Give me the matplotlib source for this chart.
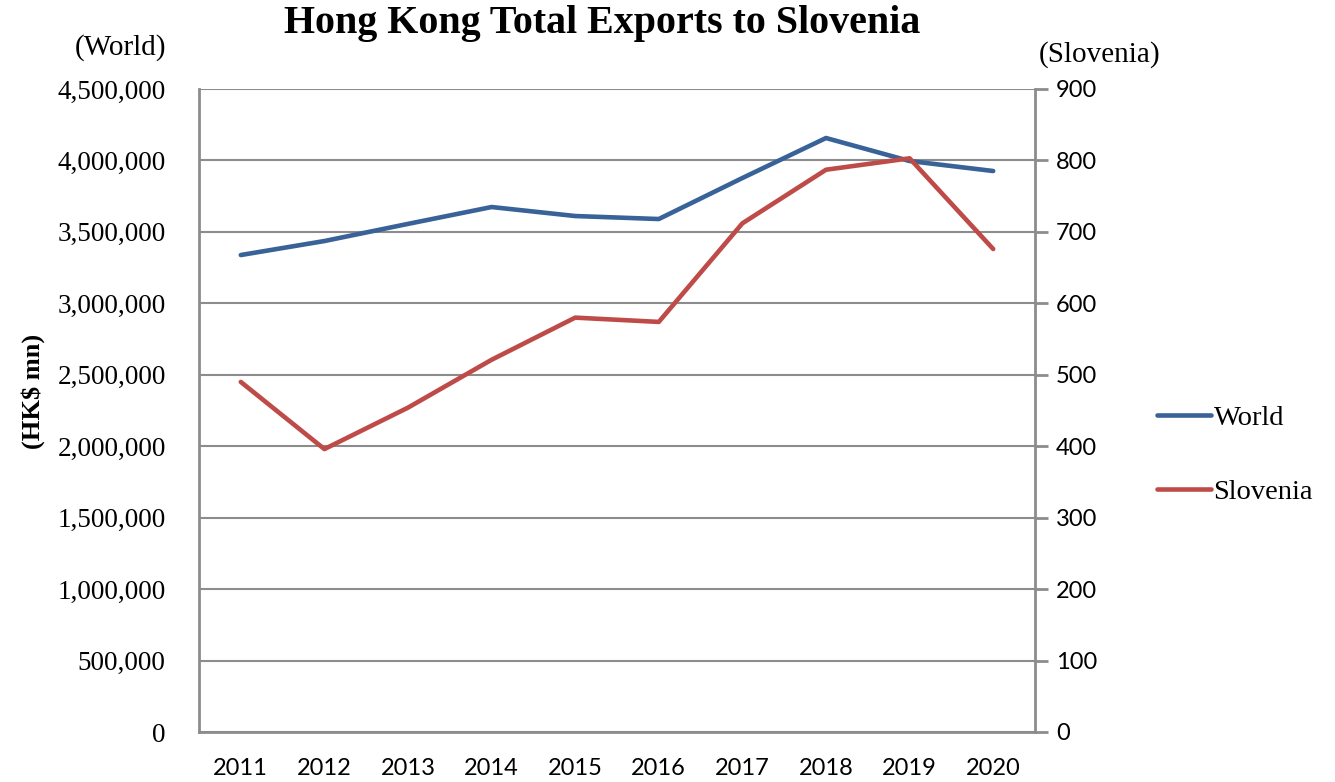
import numpy as np
import matplotlib.pyplot as plt
from matplotlib.ticker import FuncFormatter

years = ["2011", "2012", "2013", "2014", "2015", "2016", "2017", "2018", "2019", "2020"]
world = [3338000, 3436000, 3556000, 3674000, 3611000, 3590000, 3877000, 4157000, 3996000, 3926000]
slovenia = [490, 396, 454, 521, 580, 574, 712, 787, 803, 676]

serif = "Liberation Serif"
sans = "Lato"
grid_col = "#8c8c8c"

fig = plt.figure(figsize=(13.35, 7.82), dpi=100)
ax = fig.add_axes([199 / 1335, 1 - 732 / 782, 836 / 1335, 643 / 782])
ax2 = ax.twinx()

x = np.arange(len(years))
l1, = ax.plot(x, world, color="#386298", lw=3.3, solid_capstyle="round", label="World")
l2, = ax2.plot(x, slovenia, color="#be4b48", lw=3.3, solid_capstyle="round", label="Slovenia")

ax.set_xlim(-0.5, len(years) - 0.5)
ax.set_ylim(0, 4500000)
ax2.set_ylim(0, 900)
ax.set_yticks(np.arange(0, 4500001, 500000))
ax2.set_yticks(np.arange(0, 901, 100))
ax.yaxis.set_major_formatter(FuncFormatter(lambda v, p: f"{int(v):,}"))
ax.set_xticks(x)
ax.set_xticklabels(years, fontfamily=sans, fontsize=17)

ax.grid(axis="y", color=grid_col, lw=1.5)
ax.set_axisbelow(True)
for s in ["top", "right"]:
    ax.spines[s].set_visible(False)
for s in ["top", "left", "bottom"]:
    ax2.spines[s].set_visible(False)
for sp in [ax.spines["left"], ax.spines["bottom"], ax2.spines["right"]]:
    sp.set_color(grid_col)
    sp.set_linewidth(2)

ax.tick_params(axis="y", length=0, pad=24, labelsize=19.5)
ax.tick_params(axis="x", length=0, pad=19)
for t in ax.get_yticklabels():
    t.set_fontfamily(serif)
ax2.tick_params(axis="y", length=9, width=2, color=grid_col, pad=6, labelsize=17)
for t in ax2.get_yticklabels():
    t.set_fontfamily(sans)

ax.set_ylabel("(HK$ mn)", fontfamily=serif, fontsize=19, fontweight="bold")
ax.yaxis.set_label_coords(-0.184, 0.53)

fig.text(602 / 1335, 1 - 24 / 782, "Hong Kong Total Exports to Slovenia", ha="center", va="center",
         fontfamily=serif, fontsize=28.8, fontweight="bold")
fig.text(166 / 1335, 1 - 48 / 782, "(World)", ha="right", va="center", fontfamily=serif, fontsize=21)
fig.text(1160 / 1335, 1 - 55 / 782, "(Slovenia)", ha="right", va="center", fontfamily=serif, fontsize=21)

leg = fig.legend(handles=[l1, l2], loc="center left", bbox_to_anchor=(1131 / 1335, 1 - 455 / 782),
                 frameon=False, prop={"family": serif, "size": 20.5}, handlelength=1.9,
                 handletextpad=0.1, labelspacing=1.7)

fig.savefig("out.png", dpi=100)
